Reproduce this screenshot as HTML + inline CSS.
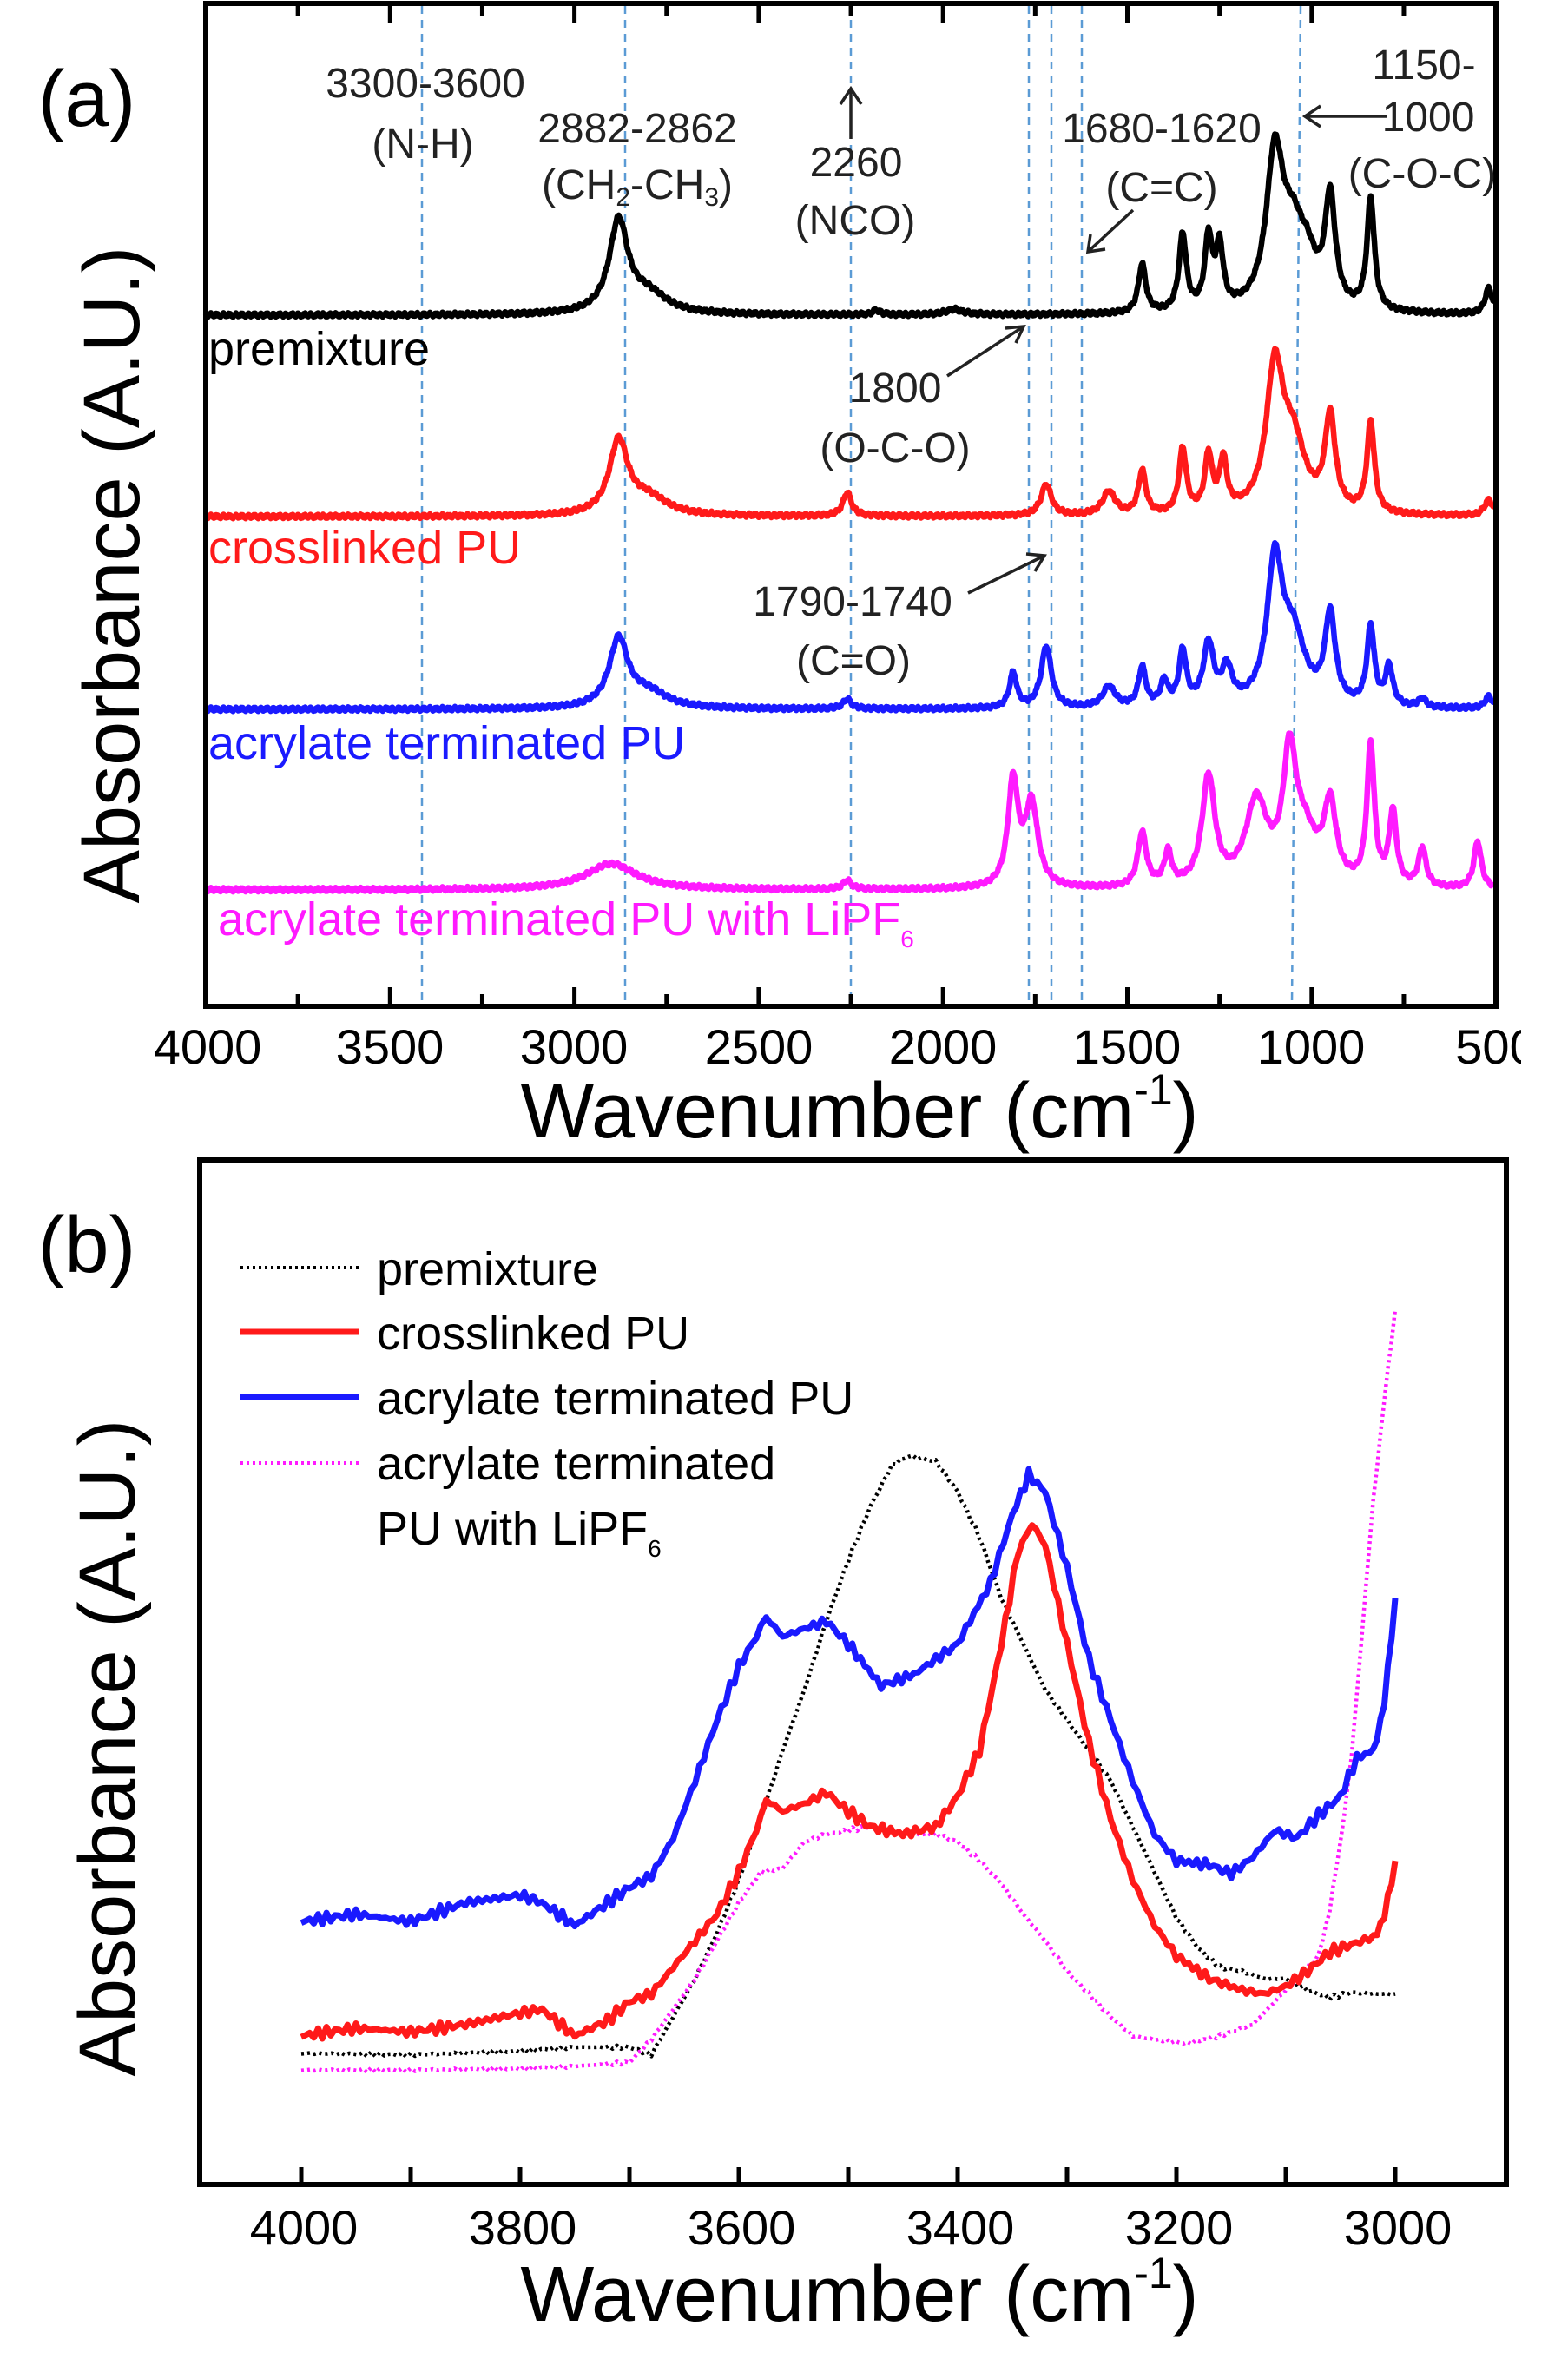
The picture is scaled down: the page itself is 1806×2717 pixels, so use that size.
<!DOCTYPE html>
<html><head><meta charset="utf-8">
<style>
html,body{margin:0;padding:0;background:#fff;}
svg{display:block;}
text{font-family:"Liberation Sans",sans-serif;}
</style></head>
<body>
<svg id="s" width="1806" height="2717" viewBox="0 0 1806 2717" xmlns="http://www.w3.org/2000/svg">
<rect width="1806" height="2717" fill="#fff"/>
<g id="dash" stroke="#5b9bd5" stroke-width="2.5" stroke-dasharray="9 7"></g>
<g id="curvesA" fill="none" stroke-width="6.5" stroke-linejoin="round"></g>
<g id="curvesB" fill="none" stroke-linejoin="round"></g>
<g id="ticks" stroke="#000" stroke-width="5"></g>
<rect x="237" y="4" width="1486" height="1155" fill="none" stroke="#000" stroke-width="6"/>
<text x="100" y="145" font-size="92" text-anchor="middle">(a)</text>
<text transform="translate(160,662) rotate(-90)" font-size="92" text-anchor="middle">Absorbance (A.U.)</text>
<g font-size="56" text-anchor="middle" fill="#000">
<text x="239" y="1225">4000</text><text x="449" y="1225">3500</text><text x="661" y="1225">3000</text>
<text x="874" y="1225">2500</text><text x="1086" y="1225">2000</text><text x="1298" y="1225">1500</text>
<text x="1510" y="1225">1000</text><text x="1723" y="1225">500</text>
</g>
<rect x="1752" y="1170" width="54" height="70" fill="#fff"/>
<text x="990" y="1310" font-size="90" text-anchor="middle">Wavenumber (cm<tspan font-size="50" dy="-38">-1</tspan><tspan dy="38">)</tspan></text>
<g font-size="48" text-anchor="middle" fill="#222">
<text x="490" y="112">3300-3600</text><text x="487" y="182">(N-H)</text>
<text x="734" y="164">2882-2862</text><text x="734" y="229">(CH<tspan font-size="30" dy="8">2</tspan><tspan dy="-8">-CH</tspan><tspan font-size="30" dy="8">3</tspan><tspan dy="-8">)</tspan></text>
<text x="986" y="203">2260</text><text x="985" y="270">(NCO)</text>
<text x="1338" y="164">1680-1620</text><text x="1338" y="232">(C=C)</text>
<text x="1640" y="91">1150-</text><text x="1645" y="151">1000</text><text x="1638" y="216">(C-O-C)</text>
<text x="1031" y="463">1800</text><text x="1031" y="532">(O-C-O)</text>
<text x="982" y="709">1790-1740</text><text x="983" y="777">(C=O)</text>
</g>
<g stroke="#222" stroke-width="3.5" fill="none">
<path d="M980 160 V102 M968 120 L980 102 L992 120"/>
<path d="M1305 242 L1253 290 M1256 270 L1253 290 L1273 287"/>
<path d="M1597 134 H1503 M1521 122 L1503 134 L1521 146"/>
<path d="M1091 433 L1179 376 M1158 378 L1179 376 L1170 395"/>
<path d="M1115 683 L1203 640 M1182 638 L1203 640 L1192 658"/>
</g>
<g font-size="54">
<text x="240" y="420" fill="#000">premixture</text>
<text x="240" y="649" fill="#ff1a1a">crosslinked PU</text>
<text x="240" y="874" fill="#1a1aff">acrylate terminated PU</text>
<text x="251" y="1077" fill="#ff1aff">acrylate terminated PU with LiPF<tspan font-size="28" dy="14">6</tspan></text>
</g>
<rect x="230" y="1336" width="1505" height="1180" fill="none" stroke="#000" stroke-width="6"/>
<text x="100" y="1465" font-size="92" text-anchor="middle">(b)</text>
<text transform="translate(155,2013) rotate(-90)" font-size="92" text-anchor="middle">Absorbance (A.U.)</text>
<g font-size="56" text-anchor="middle">
<text x="350" y="2585">4000</text><text x="602" y="2585">3800</text><text x="854" y="2585">3600</text>
<text x="1106" y="2585">3400</text><text x="1358" y="2585">3200</text><text x="1610" y="2585">3000</text>
</g>
<text x="990" y="2673" font-size="90" text-anchor="middle">Wavenumber (cm<tspan font-size="50" dy="-38">-1</tspan><tspan dy="38">)</tspan></text>
<g stroke-linecap="butt">
<line x1="277" y1="1460" x2="414" y2="1460" stroke="#000" stroke-width="4" stroke-dasharray="3 4"/>
<line x1="277" y1="1534" x2="414" y2="1534" stroke="#ff1a1a" stroke-width="7"/>
<line x1="277" y1="1609" x2="414" y2="1609" stroke="#1a1aff" stroke-width="7"/>
<line x1="277" y1="1685" x2="414" y2="1685" stroke="#ff1aff" stroke-width="4" stroke-dasharray="3 4"/>
</g>
<g font-size="54">
<text x="434" y="1480">premixture</text>
<text x="434" y="1554">crosslinked PU</text>
<text x="434" y="1629">acrylate terminated PU</text>
<text x="434" y="1704">acrylate terminated</text>
<text x="434" y="1779">PU with LiPF<tspan font-size="28" dy="14">6</tspan></text>
</g>
</svg>
<script>
var NS="http://www.w3.org/2000/svg";
function el(parent,tag,attrs){var e=document.createElementNS(NS,tag);for(var k in attrs)e.setAttribute(k,attrs[k]);document.getElementById(parent).appendChild(e);return e;}
var SA=0.4246;
function xa(w){return 237+(4000-w)*SA;}
[486,720,980,1185,1211,1246].forEach(function(x){el("dash","line",{x1:x,y1:7,x2:x,y2:1156});});
el("dash","line",{x1:1498,y1:7,x2:1488,y2:1156});
var g="ticks";
for(var w=4000;w>=500;w-=250){var x=xa(w);var L=(w%500==0)?22:14;
el(g,"line",{x1:x,y1:1159,x2:x,y2:1159-L});el(g,"line",{x1:x,y1:4,x2:x,y2:4+L});}
function spec(base,peaks,color){
 var d="";for(var w=4000;w>=505;w-=2){var y=base;
  for(var i=0;i<peaks.length;i++){var p=peaks[i];var hw=Math.max(p[2]*1.4,12);var t=(w-p[0])/hw;y-=p[1]/(1+t*t);}
  y+=Math.sin(w*0.37)*1.5+Math.sin(w*1.3)*1;
  d+=(d?"L":"M")+xa(w).toFixed(1)+" "+y.toFixed(1);}
 el("curvesA","path",{d:d,stroke:color});}
spec(363,[[2880,105,22],[2800,22,45],[1970,6,20],[2180,5,5],[1460,56,8],[1350,88,8],[1280,82,8],[1250,70,8],[1100,170,20],[1050,80,28],[1010,35,20],[950,125,12],[840,128,8],[520,30,6]],"#000");
spec(595,[[2880,84,22],[2800,20,45],[2260,27,10],[1720,36,12],[1550,27,15],[1460,50,8],[1350,74,8],[1280,65,8],[1240,58,8],[1100,160,20],[1050,75,28],[950,108,12],[840,104,8],[520,18,10]],"#ff1a1a");
spec(817,[[2880,78,22],[2800,18,45],[2260,11,10],[1810,40,8],[1720,71,12],[1550,24,15],[1460,45,8],[1400,28,8],[1350,62,8],[1280,70,12],[1230,40,12],[1100,158,18],[1050,75,28],[950,102,12],[840,90,8],[790,45,8],[700,10,6],[520,14,8]],"#1a1aff");
spec(1025,[[2900,30,60],[2260,10,10],[1810,120,12],[1760,95,15],[1460,62,10],[1390,38,8],[1280,125,15],[1150,95,25],[1060,135,15],[1020,55,30],[950,88,14],[840,160,8],[780,84,8],[700,45,6],[550,54,8]],"#ff1aff");
function xb(w){return 347+(4000-w)*1.26;}
function yb(z){return 1350+z/1.141;}
for(var w=4000;w>=3000;w-=100){var x=xb(w);el(g,"line",{x1:x,y1:2516,x2:x,y2:2496});}
function curveB(pts,color,sw,dash,noise){var d="";
 for(var i=0;i<pts.length-1;i++){var a=pts[i],b=pts[i+1];var n=Math.max(1,Math.round((a[0]-b[0])/4));
  for(var j=0;j<n;j++){var t=j/n;var w=a[0]+(b[0]-a[0])*t;var z=a[1]+(b[1]-a[1])*t;z+=noise*(Math.sin(w*0.9)+0.6*Math.sin(w*2.3));
   d+=(d?"L":"M")+xb(w).toFixed(1)+" "+yb(z).toFixed(1);}}
 var l=pts[pts.length-1];d+="L"+xb(l[0]).toFixed(1)+" "+yb(l[1]).toFixed(1);
 var at={d:d,stroke:color,"stroke-width":sw};if(dash)at["stroke-dasharray"]=dash;el("curvesB","path",at);}
curveB([[4000,1158],[3900,1160],[3800,1155],[3750,1150],[3700,1150],[3680,1160],[3660,1110],[3640,1060],[3620,1000],[3600,930],[3580,850],[3560,760],[3540,680],[3520,590],[3500,510],[3480,440],[3460,385],[3445,373],[3420,380],[3400,420],[3380,480],[3360,560],[3340,620],[3320,680],[3300,720],[3280,760],[3260,800],[3240,860],[3220,920],[3200,980],[3180,1020],[3160,1045],[3140,1050],[3120,1060],[3100,1060],[3080,1075],[3060,1085],[3040,1078],[3020,1080],[3000,1080]],"#000",4.5,"3 4",2);
curveB([[4000,1180],[3900,1180],[3800,1178],[3750,1175],[3700,1170],[3680,1140],[3660,1100],[3640,1060],[3620,1010],[3600,960],[3580,920],[3560,915],[3540,880],[3520,870],[3500,865],[3480,860],[3450,870],[3420,870],[3400,880],[3380,905],[3360,935],[3340,975],[3320,1010],[3300,1050],[3280,1080],[3260,1110],[3240,1135],[3220,1140],[3190,1145],[3160,1135],[3130,1120],[3110,1090],[3090,1060],[3070,1030],[3060,970],[3050,880],[3040,770],[3030,600],[3020,430],[3010,300],[3000,180]],"#ff1aff",4.5,"3 4",2);
curveB([[4000,1135],[3950,1125],[3900,1130],[3850,1120],[3800,1105],[3780,1100],[3750,1135],[3720,1115],[3700,1090],[3680,1080],[3660,1045],[3640,1010],[3620,975],[3600,920],[3580,850],[3575,825],[3560,840],[3540,830],[3520,815],[3500,840],[3480,860],[3450,870],[3420,860],[3400,820],[3380,760],[3360,620],[3345,500],[3332,462],[3320,490],[3300,620],[3280,750],[3260,850],[3240,930],[3220,990],[3200,1030],[3170,1060],[3140,1075],[3120,1080],[3100,1070],[3080,1050],[3060,1025],[3040,1015],[3020,1005],[3010,980],[3000,905]],"#ff1a1a",7,null,5);
curveB([[4000,985],[3950,975],[3900,985],[3850,960],[3800,950],[3780,960],[3750,990],[3720,960],[3700,940],[3680,925],[3660,875],[3640,800],[3620,720],[3600,650],[3580,600],[3575,585],[3560,610],[3540,600],[3520,590],[3500,620],[3470,675],[3440,660],[3400,620],[3370,540],[3350,450],[3335,398],[3320,420],[3300,520],[3280,640],[3260,720],[3240,800],[3220,870],[3200,905],[3170,910],[3150,922],[3130,900],[3110,865],[3090,875],[3070,845],[3050,820],[3035,770],[3020,760],[3010,700],[3000,560]],"#1a1aff",7,null,5);
</script>
</body></html>
